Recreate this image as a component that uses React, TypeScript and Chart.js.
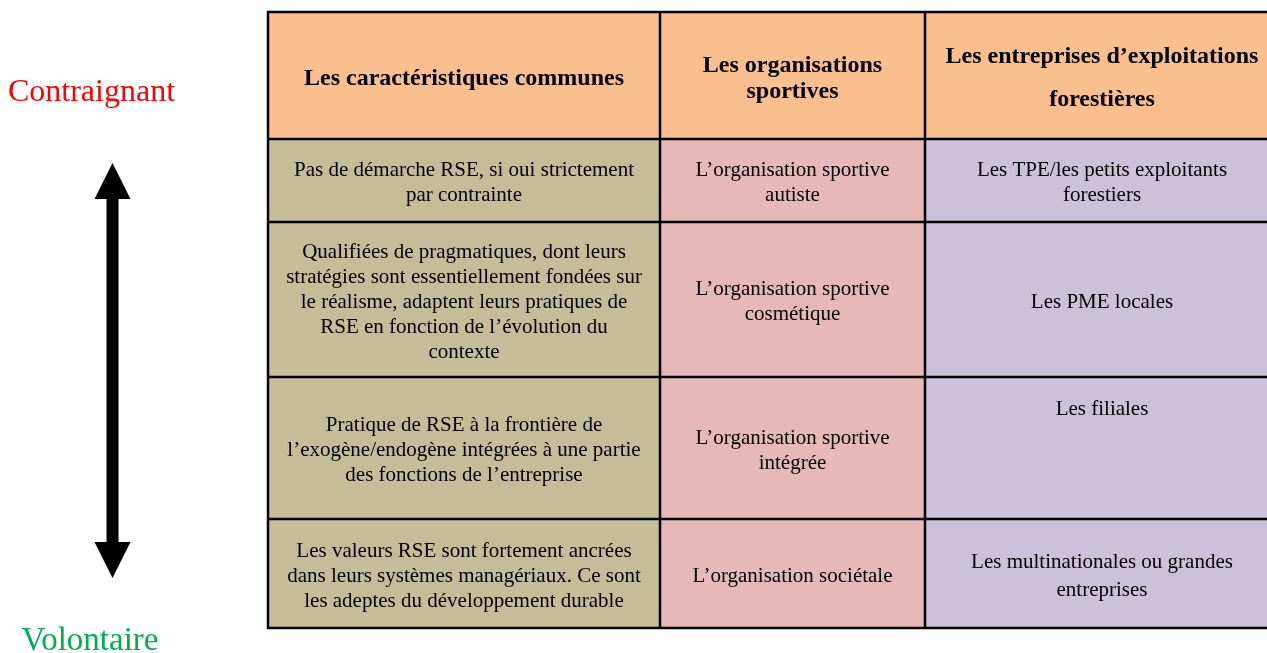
import React, { useEffect, useRef } from "react";
import { Chart, registerables } from "chart.js";

Chart.register(...registerables);

// ---- content ----
const headers: string[] = [
  "Les caractéristiques communes",
  "Les organisations\nsportives",
  "Les entreprises d’exploitations\nforestières",
];
const characteristics: string[] = [
  "Pas de démarche RSE, si oui strictement\npar contrainte",
  "Qualifiées de pragmatiques, dont leurs\nstratégies sont essentiellement fondées sur\nle réalisme, adaptent leurs pratiques de\nRSE en fonction de l’évolution du\ncontexte",
  "Pratique de RSE à la frontière de\nl’exogène/endogène intégrées à une partie\ndes fonctions de l’entreprise",
  "Les valeurs RSE sont fortement ancrées\ndans leurs systèmes managériaux. Ce sont\nles adeptes du développement durable",
];
const sportOrganisations: string[] = [
  "L’organisation sportive\nautiste",
  "L’organisation sportive\ncosmétique",
  "L’organisation sportive\nintégrée",
  "L’organisation sociétale",
];
const forestCompanies: string[] = [
  "Les TPE/les petits exploitants\nforestiers",
  "Les PME locales",
  "Les filiales",
  "Les multinationales ou grandes\nentreprises",
];
const scaleTopLabel = "Contraignant";
const scaleBottomLabel = "Volontaire";

// ---- layout (pixel units of the hidden linear scales) ----
const COL_EDGES = [268, 660, 925, 1279];
const ROW_EDGES = [12, 139, 222, 377, 519, 628];
const HEADER_BG = "#FABF8F";
const COL_BG = ["#C4BD97", "#E6B9B8", "#CCC1DA"];
const SERIF = "'Liberation Serif', 'Times New Roman', serif";

const tablePlugin = {
  id: "rseTable",
  afterDraw(chart: any) {
    const { ctx } = chart;
    const sx = chart.scales.x;
    const sy = chart.scales.y;
    const X = (v: number) => sx.getPixelForValue(v);
    const Y = (v: number) => sy.getPixelForValue(v);
    const columns = [characteristics, sportOrganisations, forestCompanies];

    ctx.save();
    // cell backgrounds
    for (let r = 0; r < ROW_EDGES.length - 1; r++) {
      for (let c = 0; c < 3; c++) {
        ctx.fillStyle = r === 0 ? HEADER_BG : COL_BG[c];
        const x0 = X(COL_EDGES[c]);
        const x1 = X(COL_EDGES[c + 1]);
        const y0 = Y(ROW_EDGES[r]);
        const y1 = Y(ROW_EDGES[r + 1]);
        ctx.fillRect(x0, y0, x1 - x0, y1 - y0);
      }
    }
    // grid lines
    ctx.strokeStyle = "#000";
    ctx.lineWidth = 2.5;
    ctx.beginPath();
    for (const ye of ROW_EDGES) {
      ctx.moveTo(X(COL_EDGES[0]) - 1.25, Y(ye));
      ctx.lineTo(X(COL_EDGES[3]), Y(ye));
    }
    for (let c = 0; c < 3; c++) {
      ctx.moveTo(X(COL_EDGES[c]), Y(ROW_EDGES[0]));
      ctx.lineTo(X(COL_EDGES[c]), Y(ROW_EDGES[ROW_EDGES.length - 1]));
    }
    ctx.stroke();

    // text
    ctx.fillStyle = "#000";
    ctx.textAlign = "center";
    ctx.textBaseline = "alphabetic";
    const drawLines = (text: string, cx: number, cy: number, lh: number, base: number) => {
      const lines = text.split("\n");
      lines.forEach((ln, i) => {
        ctx.fillText(ln, cx, cy + (i - (lines.length - 1) / 2) * lh + base);
      });
    };
    // headers
    ctx.font = `bold 24px ${SERIF}`;
    const headerLH = [26, 26, 43];
    for (let c = 0; c < 3; c++) {
      const cx = (X(COL_EDGES[c]) + X(COL_EDGES[c + 1])) / 2;
      const cy = (Y(ROW_EDGES[0]) + Y(ROW_EDGES[1])) / 2;
      drawLines(headers[c], cx, cy, headerLH[c], 9);
    }
    // body
    ctx.font = `21px ${SERIF}`;
    for (let r = 0; r < 4; r++) {
      for (let c = 0; c < 3; c++) {
        const cx = (X(COL_EDGES[c]) + X(COL_EDGES[c + 1])) / 2;
        const y0 = Y(ROW_EDGES[r + 1]);
        const y1 = Y(ROW_EDGES[r + 2]);
        let cy = (y0 + y1) / 2;
        let lh = 25;
        if (c === 2 && r === 2) cy = y0 + 30; // top-aligned cell
        if (c === 2 && r === 3) lh = 28;
        drawLines(columns[c][r], cx, cy, lh, 8);
      }
    }

    // side labels
    ctx.font = `32px ${SERIF}`;
    ctx.fillStyle = "#FF0000";
    ctx.fillText(scaleTopLabel, X(91.5), Y(101));
    ctx.font = `33px ${SERIF}`;
    ctx.fillStyle = "#00B050";
    ctx.fillText(scaleBottomLabel, X(90), Y(650));

    // double-headed arrow
    const ax = 112.5;
    const top = 163, bot = 578, headH = 36, headW = 18, shaftW = 6;
    ctx.fillStyle = "#000";
    ctx.beginPath();
    ctx.moveTo(X(ax), Y(top));
    ctx.lineTo(X(ax + headW), Y(top + headH));
    ctx.lineTo(X(ax + shaftW), Y(top + headH));
    ctx.lineTo(X(ax + shaftW), Y(bot - headH));
    ctx.lineTo(X(ax + headW), Y(bot - headH));
    ctx.lineTo(X(ax), Y(bot));
    ctx.lineTo(X(ax - headW), Y(bot - headH));
    ctx.lineTo(X(ax - shaftW), Y(bot - headH));
    ctx.lineTo(X(ax - shaftW), Y(top + headH));
    ctx.lineTo(X(ax - headW), Y(top + headH));
    ctx.closePath();
    ctx.fill();
    ctx.restore();
  },
};

export default function App() {
  const ref = useRef<HTMLCanvasElement | null>(null);
  useEffect(() => {
    if (!ref.current) return;
    const chart = new Chart(ref.current, {
      type: "scatter",
      data: { datasets: [{ data: [] }] },
      options: {
        responsive: false,
        animation: false,
        layout: { padding: 0 },
        plugins: { legend: { display: false }, tooltip: { enabled: false } },
        scales: {
          x: { type: "linear", min: 0, max: 1267, display: false },
          y: { type: "linear", min: 0, max: 653, reverse: true, display: false },
        },
      },
      plugins: [tablePlugin],
    });
    return () => chart.destroy();
  }, []);
  return (
    <div style={{ position: "absolute", left: 0, top: 0, width: 1267, height: 653, background: "#fff" }}>
      <canvas ref={ref} width={1267} height={653} />
    </div>
  );
}
